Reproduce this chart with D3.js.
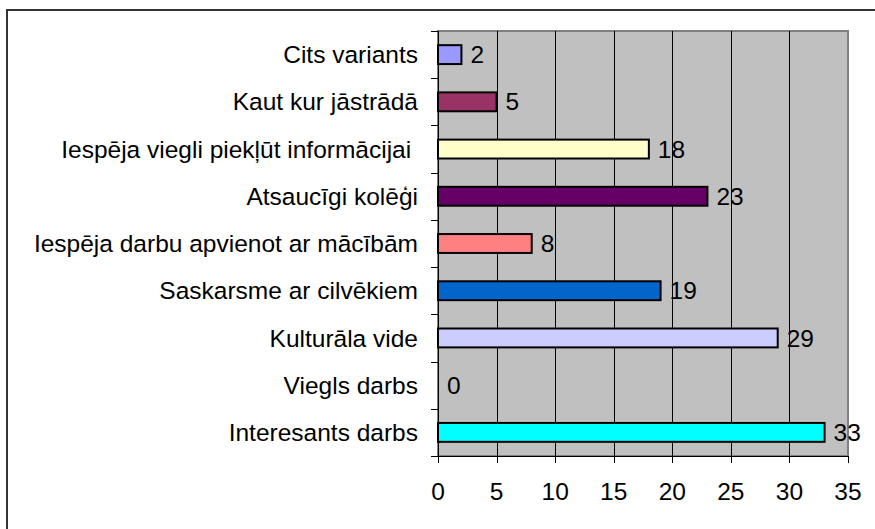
<!DOCTYPE html>
<html><head><meta charset="utf-8">
<script src="https://cdn.jsdelivr.net/npm/d3@7"></script>
<style>body{margin:0;background:#fff}svg{display:block}text{white-space:pre}</style>
</head><body>
<svg id="c" width="875" height="529"></svg>
<script>
const categories = ["Cits variants","Kaut kur jāstrādā","Iespēja viegli piekļūt informācijai ","Atsaucīgi kolēģi","Iespēja darbu apvienot ar mācībām","Saskarsme ar cilvēkiem","Kulturāla vide","Viegls darbs","Interesants darbs"];
const values = [2,5,18,23,8,19,29,0,33];
const colors = ["#9999FF","#993366","#FFFFCC","#660066","#FF8080","#0066CC","#CCCCFF","#FFFFFF","#00FFFF"];
const xTicks = [0,5,10,15,20,25,30,35];

const svg = d3.select("#c");
const font = "'Liberation Sans', Arial, sans-serif";
const fs = 24.5;
const L = 438, R = 848, T = 31, B = 456;

svg.append("rect").attr("x",7).attr("y",10).attr("width",900).attr("height",560)
  .attr("fill","#fff").attr("stroke","#333").attr("stroke-width",2);

const x = d3.scaleLinear().domain([0,35]).range([L,R]);
const y = d3.scaleBand().domain(categories).range([T,B]).paddingInner(0.6).paddingOuter(0.3);

svg.append("rect").attr("x",L).attr("y",T).attr("width",R-L).attr("height",B-T)
  .attr("fill","#C0C0C0").attr("stroke","#808080").attr("stroke-width",2);

svg.append("g").selectAll("line").data(xTicks.filter(t=>t>0&&t<35)).join("line")
  .attr("x1",d=>Math.round(x(d))+0.5).attr("x2",d=>Math.round(x(d))+0.5)
  .attr("y1",T).attr("y2",B).attr("stroke","#000").attr("stroke-width",1);

svg.append("g").selectAll("rect").data(values).join("rect")
  .attr("x",x(0)).attr("y",(d,i)=>y(categories[i]))
  .attr("width",d=>x(d)-x(0)).attr("height",y.bandwidth())
  .attr("fill",(d,i)=>colors[i]).attr("stroke","#000").attr("stroke-width",2)
  .attr("display",d=>d===0?"none":null);

svg.append("g").selectAll("text").data(values).join("text")
  .attr("x",d=>x(d)+9).attr("y",(d,i)=>y(categories[i])+y.bandwidth()/2)
  .attr("dy","0.35em").attr("font-family",font).attr("font-size",fs).attr("fill","#000")
  .text(d=>d);

// left axis
const yAxis = svg.append("g");
yAxis.append("line").attr("x1",L+0.5).attr("x2",L+0.5).attr("y1",T).attr("y2",B+7).attr("stroke","#000");
const bounds = d3.range(categories.length+1).map(i=>T+i*y.step());
yAxis.selectAll("line.t").data(bounds).join("line").attr("class","t")
  .attr("x1",L-7).attr("x2",L).attr("y1",d=>Math.round(d)+0.5).attr("y2",d=>Math.round(d)+0.5).attr("stroke","#000");
yAxis.selectAll("text").data(categories).join("text")
  .attr("x",418).attr("y",d=>y(d)+y.bandwidth()/2).attr("dy","0.35em")
  .attr("text-anchor","end").attr("font-family",font).attr("font-size",fs).attr("fill","#000")
  .text(d=>d);

// bottom axis
const xAxis = svg.append("g");
xAxis.append("line").attr("x1",L).attr("x2",R).attr("y1",B+0.5).attr("y2",B+0.5).attr("stroke","#000");
xAxis.selectAll("line.t").data(xTicks).join("line").attr("class","t")
  .attr("x1",d=>Math.round(x(d))+0.5).attr("x2",d=>Math.round(x(d))+0.5)
  .attr("y1",B).attr("y2",B+7).attr("stroke","#000");
xAxis.selectAll("text").data(xTicks).join("text")
  .attr("x",d=>x(d)).attr("y",500).attr("text-anchor","middle")
  .attr("font-family",font).attr("font-size",fs).attr("fill","#000").text(d=>d);
</script>
</body></html>
